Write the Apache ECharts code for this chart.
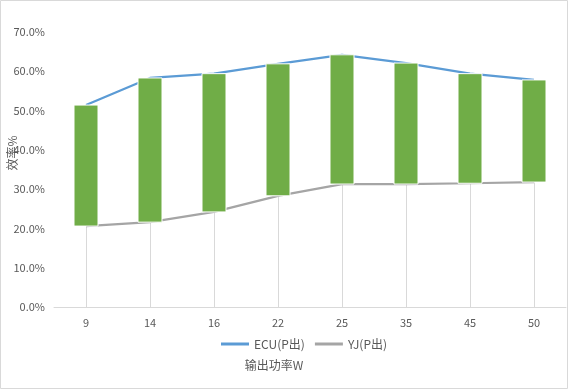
<!DOCTYPE html>
<html><head><meta charset="utf-8">
<script src="https://cdn.jsdelivr.net/npm/echarts@6/dist/echarts.min.js"></script>
<style>html,body{margin:0;padding:0;background:#fff}#c{width:568px;height:389px}</style>
</head><body><div id="c"></div>
<script>
var categories = ['9','14','16','22','25','35','45','50'];
var ecu = [0.514, 0.583, 0.594, 0.619, 0.642, 0.621, 0.594, 0.578];
var yj = [0.206, 0.216, 0.242, 0.283, 0.313, 0.313, 0.315, 0.318];
var yTicks = [0, 0.1, 0.2, 0.3, 0.4, 0.5, 0.6, 0.7];

var font = '"Noto Sans CJK SC", "Noto Sans", sans-serif';
var txt = '#595959';
var chart = echarts.init(document.getElementById('c'), null, {renderer:'canvas'});
var pairData = categories.map(function(c,i){return [i, ecu[i], yj[i]];});
chart.setOption({
  animation:false,
  textStyle:{fontFamily:font},
  graphic:[
    {type:'rect', shape:{x:0.5,y:0.5,width:567,height:388}, style:{fill:null, stroke:'#d9d9d9', lineWidth:1}, z:-10},
    {type:'text', x:12, y:153, rotation:Math.PI/2, style:{text:'效率%', fill:txt, font:'12px '+font, align:'center', verticalAlign:'middle'}},
    {type:'text', x:274, y:365, style:{text:'输出功率W', fill:txt, font:'12px '+font, align:'center', verticalAlign:'middle'}}
  ],
  grid:{left:54, right:2, top:32, bottom:82, containLabel:false},
  legend:{
    top:333, left:216, itemWidth:28, itemHeight:3, itemGap:10,
    textStyle:{color:txt, fontSize:12, fontFamily:font},
    data:[{name:'ECU(P出)', icon:'rect'},{name:'YJ(P出)', icon:'rect'}]
  },
  xAxis:{type:'category', data:categories, boundaryGap:true,
    axisLine:{lineStyle:{color:'#d9d9d9'}}, axisTick:{show:false},
    axisLabel:{color:txt, fontSize:11, margin:10}},
  yAxis:{type:'value', min:0, max:0.7, interval:0.1,
    axisLine:{show:false}, axisTick:{show:false}, splitLine:{show:false},
    axisLabel:{color:txt, fontSize:11, margin:9, formatter:function(v){return (v*100).toFixed(1)+'%';}}},
  series:[
    {type:'custom', name:'drop', silent:true, z:1, data:pairData,
      encode:{x:0, y:[1,2]},
      renderItem:function(params, api){
        var i = api.value(0);
        var lo = Math.min(api.value(1), api.value(2));
        var p0 = api.coord([i, 0]); var p1 = api.coord([i, lo]);
        return {type:'line', shape:{x1:Math.round(p0[0])+0.5, y1:p0[1], x2:Math.round(p1[0])+0.5, y2:p1[1]}, style:{stroke:'#d9d9d9', lineWidth:1}};
      }},
    {type:'line', name:'ECU(P出)', data:ecu, symbol:'none', z:2, itemStyle:{color:'#5b9bd5'}, lineStyle:{color:'#5b9bd5', width:2.25}},
    {type:'line', name:'YJ(P出)', data:yj, symbol:'none', z:2, itemStyle:{color:'#a5a5a5'}, lineStyle:{color:'#a5a5a5', width:2.25}},
    {type:'custom', name:'updown', silent:true, z:3, data:pairData,
      encode:{x:0, y:[1,2]},
      renderItem:function(params, api){
        var i = api.value(0);
        var a = api.coord([i, api.value(1)]); var b = api.coord([i, api.value(2)]);
        var w = api.size([1,0])[0]*0.375;
        var top = Math.min(a[1], b[1]), h = Math.abs(a[1]-b[1]);
        return {type:'rect', shape:{x:a[0]-w/2, y:top, width:w, height:h}, style:{fill:'#70ad47', stroke:'#ffffff', lineWidth:1}};
      }}
  ]
});
</script></body></html>
